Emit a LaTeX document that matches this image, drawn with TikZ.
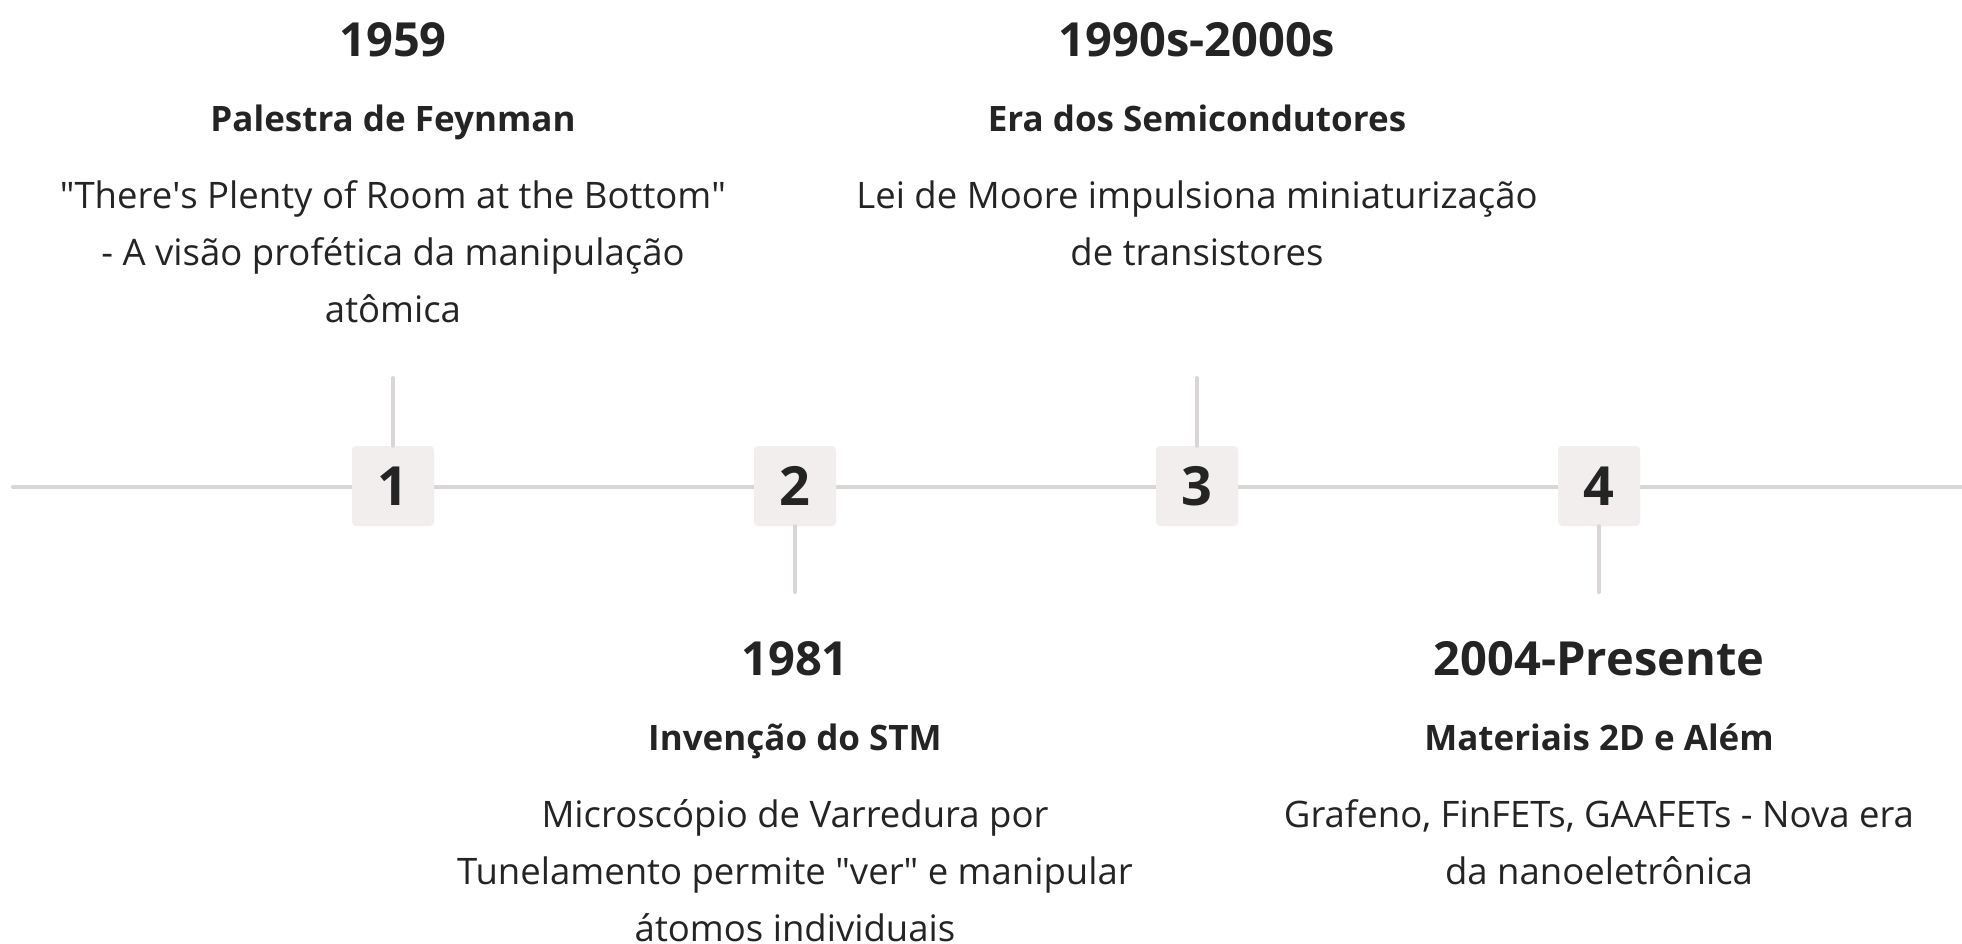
\documentclass[tikz,border=0pt]{standalone}
\usepackage{fontspec}
\setmainfont{Open Sans}
\definecolor{linec}{RGB}{218,214,213}
\definecolor{boxc}{RGB}{241,238,237}
\definecolor{txt}{RGB}{36,36,36}
\begin{document}
\begin{tikzpicture}[x=1pt,y=-1pt,
  conn/.style={draw=linec,line width=4pt,line cap=round},
  numbox/.style={fill=boxc,rounded corners=4pt,minimum width=82pt,minimum height=80pt,inner sep=0pt,text=txt,font=\fontsize{54}{60}\selectfont\bfseries},
  yearlbl/.style={anchor=base,inner sep=0pt,text=txt,font=\fontsize{47}{52}\selectfont\bfseries},
  titlelbl/.style={anchor=base,inner sep=0pt,text=txt,font=\fontsize{35}{40}\selectfont\bfseries},
  desclbl/.style={anchor=north,inner sep=0pt,align=center,text=txt,font=\fontsize{36.5}{57}\selectfont}]
\fill[white] (0,0) rectangle (1962,943);
\useasboundingbox (0,0) rectangle (1962,943);
% timeline
\coordinate (L) at (13,487);
\coordinate (R) at (1962,487);
\draw[conn] (L) -- (R);
% boxes
\node[numbox] (n1) at (393,486) {1};
\node[numbox] (n2) at (795,486) {2};
\node[numbox] (n3) at (1197,486) {3};
\node[numbox] (n4) at (1599,486) {4};
% ticks
\coordinate (t1) at (393,378);
\coordinate (t2) at (795,592);
\coordinate (t3) at (1197,378);
\coordinate (t4) at (1599,592);
\draw[conn] (n1.north) -- (t1);
\draw[conn] (n2.south) -- (t2);
\draw[conn] (n3.north) -- (t3);
\draw[conn] (n4.south) -- (t4);
% top labels
\node[yearlbl] (y1) at (393,56) {1959};
\node[titlelbl] (h1) at (393,131) {Palestra de Feynman};
\node[desclbl] (d1) at (393,168.1) {\strut\textquotedbl There\textquotesingle s Plenty of Room at the Bottom\textquotedbl\\- A visão profética da manipulação\\atômica};
\node[yearlbl] (y3) at (1197,56) {1990s-2000s};
\node[titlelbl] (h3) at (1197,131) {Era dos Semicondutores};
\node[desclbl] (d3) at (1197,168.1) {\strut Lei de Moore impulsiona miniaturização\\de transistores};
% bottom labels
\node[yearlbl] (y2) at (795,675) {1981};
\node[titlelbl] (h2) at (795,750) {Invenção do STM};
\node[desclbl] (d2) at (795,787.1) {\strut Microscópio de Varredura por\\Tunelamento permite \textquotedbl ver\textquotedbl{} e manipular\\átomos individuais};
\node[yearlbl] (y4) at (1599,675) {2004-Presente};
\node[titlelbl] (h4) at (1599,750) {Materiais 2D e Além};
\node[desclbl] (d4) at (1599,787.1) {\strut Grafeno, FinFETs, GAAFETs - Nova era\\da nanoeletrônica};
\end{tikzpicture}
\end{document}
